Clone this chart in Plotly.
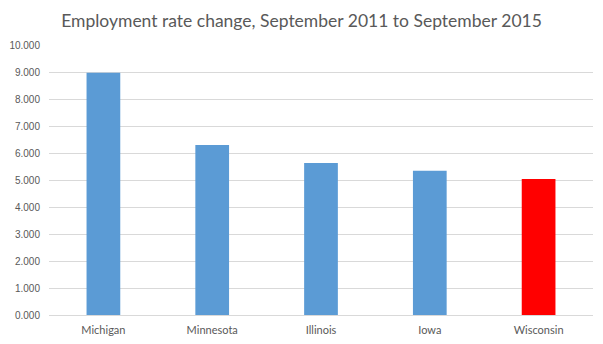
import plotly.graph_objects as go

states = ["Michigan", "Minnesota", "Illinois", "Iowa", "Wisconsin"]
values = [8.97, 6.30, 5.63, 5.34, 5.04]
colors = ["#5B9BD5", "#5B9BD5", "#5B9BD5", "#5B9BD5", "#FF0000"]
title = "Employment rate change, September 2011 to September 2015"

fig = go.Figure(go.Bar(x=states, y=values, marker=dict(color=colors, line=dict(width=0))))
fig.update_layout(
    width=603, height=344,
    margin=dict(l=49, r=10, t=45, b=29),
    paper_bgcolor="white", plot_bgcolor="white",
    bargap=0.69,
    showlegend=False,
    title=dict(text=title, x=0.5, xanchor="center", y=0.94, yanchor="middle",
               font=dict(family="Lato", size=17.5, color="#595959")),
    font=dict(family="Liberation Sans", color="#595959"),
)
fig.update_yaxes(range=[0, 10], dtick=1, tickformat=".3f", showgrid=True,
                 gridcolor="#D9D9D9", gridwidth=1, zeroline=False, showline=False,
                 automargin=False,
                 ticks="", ticklabelstandoff=8, tickfont=dict(size=10, family="Liberation Sans", color="#595959"))
fig.update_xaxes(showline=True, linecolor="#D9D9D9", linewidth=1, ticks="",
                 ticklabelstandoff=5, automargin=False,
                 tickfont=dict(size=11, family="Lato", color="#595959"))
fig.write_html("out.html")
